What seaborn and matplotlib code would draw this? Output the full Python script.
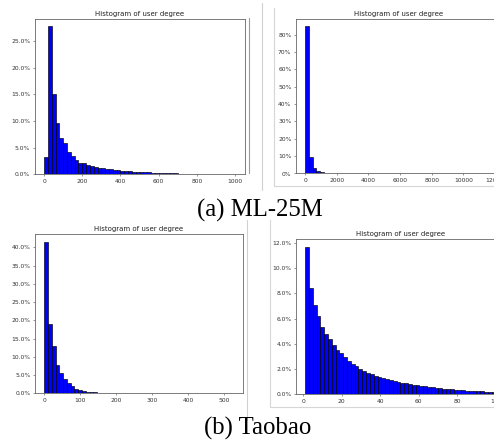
import numpy as np
import pandas as pd
import matplotlib
matplotlib.use("Agg")
import matplotlib.pyplot as plt
from matplotlib.ticker import PercentFormatter, MultipleLocator
from matplotlib.lines import Line2D
import seaborn as sns

# ---- data: share of users (%) per degree bin ----
# ML-25M, degree 0..1000, 50 bins
ml_small_edges = (0, 1000, 50)
ml_small_pct = [3.3, 27.8, 15.0, 9.7, 6.8, 5.9, 4.2, 3.4, 2.7, 2.2,
                2.1, 1.8, 1.6, 1.45, 1.25, 1.1, 1.0, 0.92, 0.85, 0.75,
                0.68, 0.6, 0.55, 0.5, 0.45, 0.41, 0.38, 0.35, 0.32, 0.29,
                0.26, 0.23, 0.2, 0.18, 0.16, 0.15, 0.14, 0.13, 0.12, 0.11,
                0.1, 0.09, 0.08, 0.08, 0.07, 0.07, 0.06, 0.06, 0.05, 0.05]

# ML-25M, full degree range, 50 bins
ml_full_edges = (0, 11840, 50)
ml_full_pct = [84.8, 9.6, 2.9, 1.3, 0.6, 0.3, 0.2, 0.1, 0.06, 0.04,
               0.03, 0.02, 0.02, 0.01, 0.01, 0.01, 0.0, 0.0, 0.0, 0.0,
               0.0, 0.0, 0.0, 0.0, 0.0, 0.0, 0.0, 0.0, 0.0, 0.0,
               0.0, 0.0, 0.0, 0.0, 0.0, 0.0, 0.0, 0.0, 0.0, 0.0,
               0.0, 0.0, 0.0, 0.0, 0.0, 0.0, 0.0, 0.0, 0.0, 0.0]

# Taobao, full degree range, 50 bins
tb_full_edges = (0, 525, 50)
tb_full_pct = [41.6, 19.1, 12.9, 7.7, 5.6, 3.8, 2.8, 1.9, 1.3, 0.95,
               0.65, 0.47, 0.35, 0.25, 0.18, 0.13, 0.1, 0.07, 0.05, 0.04,
               0.03, 0.02, 0.02, 0.01, 0.01, 0.01, 0.0, 0.0, 0.0, 0.0,
               0.0, 0.0, 0.0, 0.0, 0.0, 0.0, 0.0, 0.0, 0.0, 0.0,
               0.0, 0.0, 0.0, 0.0, 0.0, 0.0, 0.0, 0.0, 0.0, 0.0]

# Taobao, degree 1..100, 50 bins
tb_small_edges = (1, 100, 50)
tb_small_pct = [11.69, 8.44, 7.10, 6.20, 5.36, 4.75, 4.35, 3.88, 3.51, 3.25,
                2.93, 2.64, 2.37, 2.22, 2.03, 1.87, 1.72, 1.58, 1.48, 1.37,
                1.28, 1.20, 1.12, 1.05, 0.98, 0.92, 0.86, 0.81, 0.76, 0.72,
                0.67, 0.63, 0.59, 0.55, 0.51, 0.48, 0.45, 0.42, 0.39, 0.36,
                0.34, 0.32, 0.30, 0.28, 0.26, 0.24, 0.23, 0.21, 0.20, 0.19]

title_text = "Histogram of user degree"
captions = ["(a) ML-25M", "(b) Taobao"]

# ---- figure ----
W, H = 494, 444
sns.set_style("white")
plt.rcParams["font.family"] = ["DejaVu Sans"]
fig = plt.figure(figsize=(W / 100, H / 100), dpi=100)
fig.patch.set_facecolor("white")


def add_axes_px(l, t, r, b):
    return fig.add_axes([l / W, 1 - b / H, (r - l) / W, (b - t) / H])


def draw_hist(ax, edges_spec, pct, xstep, ystep, decimals):
    lo, hi, n = edges_spec
    width = (hi - lo) / n
    centers = lo + width * (np.arange(n) + 0.5)
    df = pd.DataFrame({"degree": centers, "share": pct})
    sns.histplot(data=df, x="degree", weights="share", bins=n,
                 binrange=(lo, hi), color="#0000ff", edgecolor="black",
                 linewidth=0.45, alpha=1.0, ax=ax)
    ax.set_xlabel("")
    ax.set_ylabel("")
    ax.set_title(title_text, fontsize=5.0, pad=2.5, color="#222222")
    ax.xaxis.set_major_locator(MultipleLocator(xstep))
    ax.yaxis.set_major_locator(MultipleLocator(ystep))
    ax.yaxis.set_major_formatter(PercentFormatter(decimals=decimals))
    ax.tick_params(axis="both", labelsize=4.3, length=1.6, width=0.4,
                   pad=1.5, colors="#444444", labelcolor="#333333",
                   bottom=True, left=True)
    for s in ax.spines.values():
        s.set_linewidth(0.6)
        s.set_color("#666666")
        s.set_visible(True)
    ax.set_facecolor("white")


ax_tl = add_axes_px(34.5, 19, 244.7, 174.3)
draw_hist(ax_tl, ml_small_edges, ml_small_pct, 200, 5, 1)
ax_tl.set_xlim(-50, 1050)

ax_tr = add_axes_px(295.7, 19, 502, 173.5)
draw_hist(ax_tr, ml_full_edges, ml_full_pct, 2000, 10, 0)
ax_tr.set_xlim(-592, 12432)

ax_bl = add_axes_px(34.7, 234, 242.7, 393.3)
draw_hist(ax_bl, tb_full_edges, tb_full_pct, 100, 5, 1)
ax_bl.set_xlim(-26.25, 551.25)

ax_br = add_axes_px(295.7, 239.3, 505, 394.3)
draw_hist(ax_br, tb_small_edges, tb_small_pct, 20, 2, 1)
ax_br.set_xlim(-3.95, 104.95)

# frames of the individual panels
def vline(x, y0, y1, color, lw=0.8):
    fig.add_artist(Line2D([x / W, x / W], [1 - y0 / H, 1 - y1 / H],
                          color=color, lw=lw, transform=fig.transFigure))


def hline(y, x0, x1, color, lw=0.8):
    fig.add_artist(Line2D([x0 / W, x1 / W], [1 - y / H, 1 - y / H],
                          color=color, lw=lw, transform=fig.transFigure))


vline(249, 18, 173, "#9a9a9a")
vline(262, 3, 190, "#d0d0d0")
vline(274, 8, 186, "#d6d6d6")
hline(186, 274, 494, "#d6d6d6")
vline(247, 220, 420, "#d0d0d0")
vline(270, 220, 407, "#d6d6d6")
hline(407, 270, 494, "#d6d6d6")

# captions
fig.text(259.7 / W, 1 - 216.5 / H, captions[0], ha="center", va="baseline",
         fontsize=17.8, family="Liberation Serif", color="black")
fig.text(258 / W, 1 - 434.5 / H, captions[1], ha="center", va="baseline",
         fontsize=17.8, family="Liberation Serif", color="black")

fig.savefig("out.png", dpi=100, facecolor="white")
